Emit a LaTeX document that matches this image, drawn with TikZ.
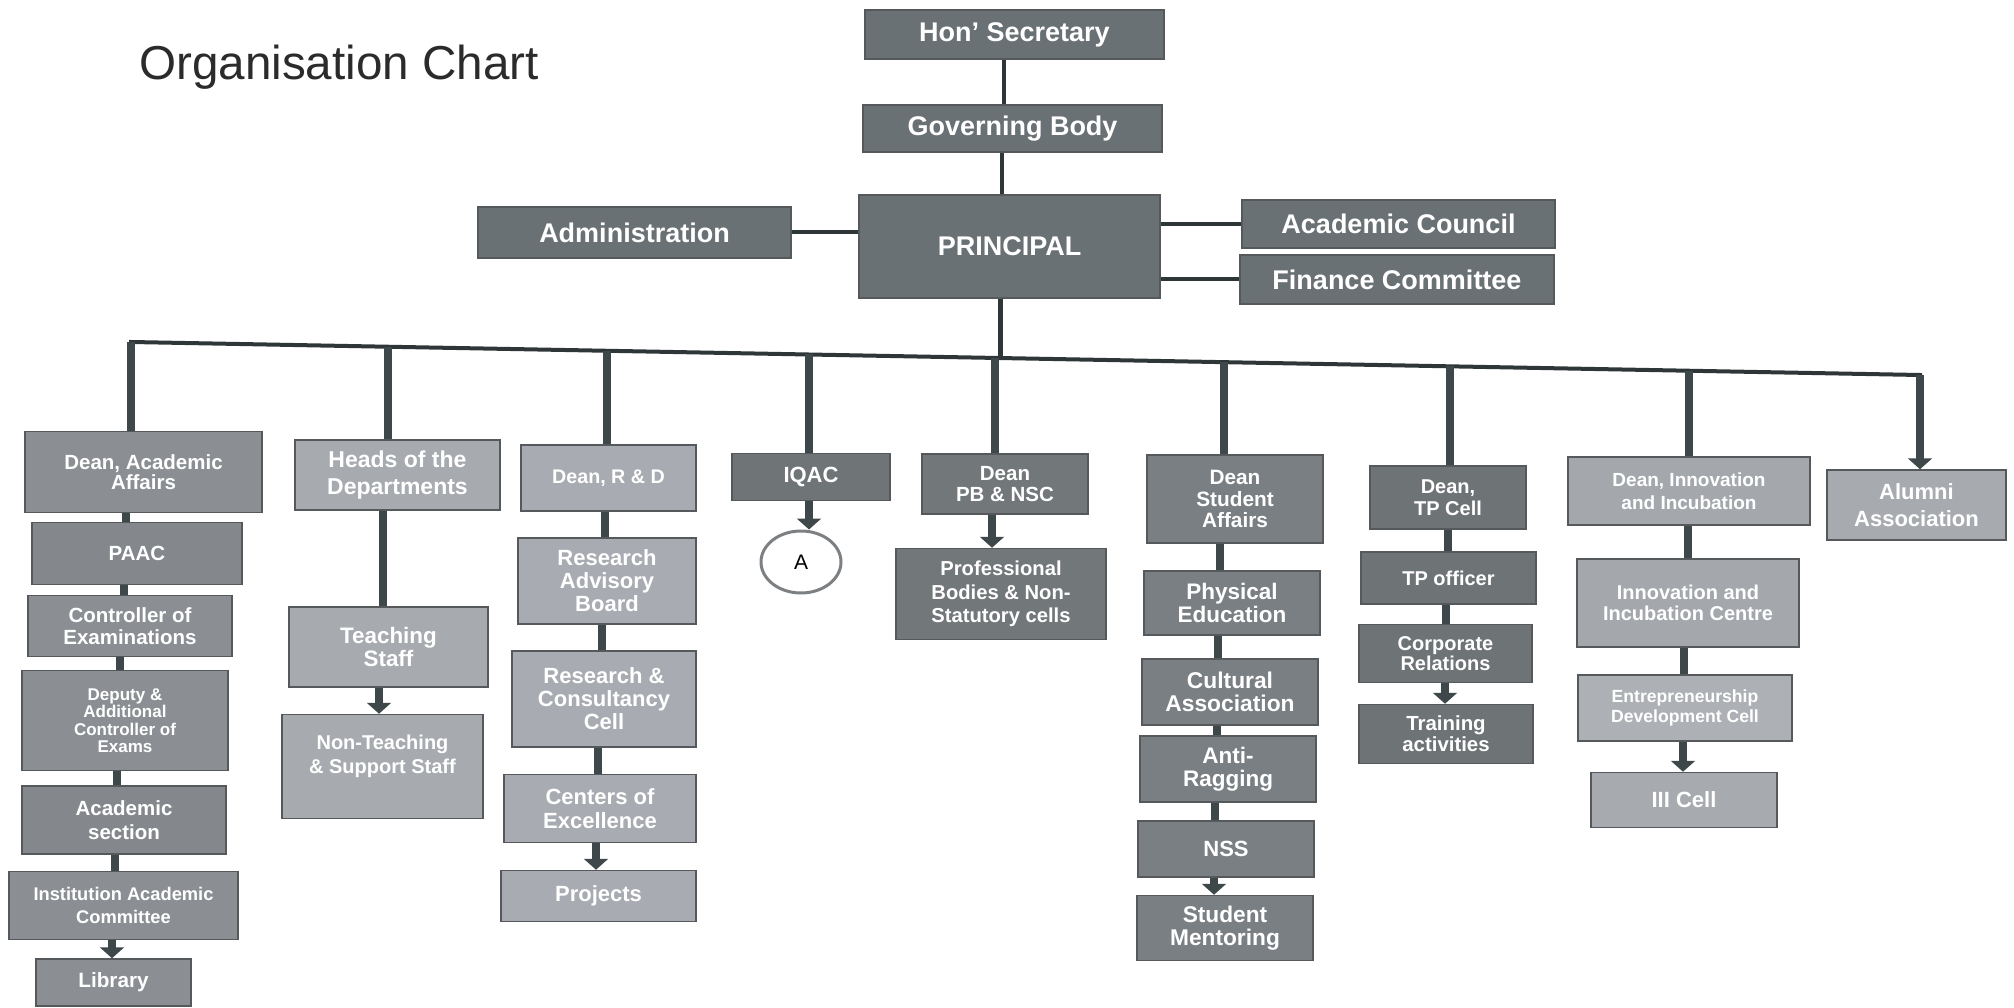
\documentclass[tikz,border=0pt]{standalone}
\usepackage{fontspec}
\setmainfont{Liberation Sans}
\usetikzlibrary{arrows.meta,shapes.geometric}
\definecolor{topc}{HTML}{6A7174}
\definecolor{cone}{HTML}{8B8F94}
\definecolor{coned}{HTML}{84888D}
\definecolor{ctwo}{HTML}{A7AAAF}
\definecolor{cthree}{HTML}{A8ABB1}
\definecolor{cdark}{HTML}{6F7477}
\definecolor{cfive}{HTML}{72777A}
\definecolor{csix}{HTML}{7A7F83}
\definecolor{cseven}{HTML}{6E7376}
\definecolor{ceight}{HTML}{A4A8AD}
\definecolor{ceightl}{HTML}{ADB0B5}
\definecolor{boxline}{HTML}{55595C}
\definecolor{linec}{HTML}{2F3638}
\definecolor{barc}{HTML}{3E474A}
\definecolor{circc}{HTML}{7D8083}
\definecolor{titlec}{HTML}{2B2B2B}
\begin{document}
\begin{tikzpicture}[x=1pt,y=-1pt,
  box/.style={fill=#1, draw=boxline, line width=1.5pt, text=white, align=center, inner sep=0pt},
  wh/.style 2 args={minimum width=#1pt, minimum height=#2pt},
  sz/.style 2 args={font=\bfseries\fontsize{#1}{#2}\selectfont},
  thinl/.style={draw=linec, line width=4pt},
  busl/.style={draw=linec, line width=4pt, line cap=rect},
  bar/.style={draw=barc, line width=8pt},
  arr/.style={draw=barc, fill=barc, line width=8pt, -{Triangle[width=24pt,length=11pt]}},
]
\useasboundingbox (0,0) rectangle (2014,1008);
\fill[white] (0,0) rectangle (2014,1008);

\node[anchor=base west, inner sep=0pt, text=titlec, font=\fontsize{47.6}{50}\selectfont] (title) at (139,80) {Organisation Chart};

% top level
\node[box=topc, wh={299}{49}, sz={27}{28}] (hon) at (1014.5,34.5) {Hon’ Secretary};
\node[box=topc, wh={299}{47}, sz={27}{28}] (gb) at (1012.5,128.5) {Governing Body};
\node[box=topc, wh={301}{103}, sz={27}{28}] (prin) at (1009.5,246.5) {PRINCIPAL};
\node[box=topc, wh={313}{51}, sz={27}{28}] (admin) at (634.5,232.5) {Administration};
\node[box=topc, wh={313}{48}, sz={27}{28}] (ac) at (1398.5,224) {Academic Council};
\node[box=topc, wh={314}{49}, sz={27}{28}] (fc) at (1397,279.5) {Finance Committee};

\draw[thinl] ([xshift=-10.5pt]hon.south) -- ([xshift=-10.5pt]hon.south |- gb.north);
\draw[thinl] ([xshift=-10.5pt]gb.south) -- ([xshift=-10.5pt]gb.south |- prin.north);
\draw[thinl] (admin.east) -- (admin.east -| prin.west);
\draw[thinl] (ac.west -| prin.east) -- (ac.west);
\draw[thinl] (fc.west -| prin.east) -- (fc.west);

% bus junctions
\coordinate (j1) at (131,342);
\coordinate (j2) at (388,346.7);
\coordinate (j3) at (607,350.8);
\coordinate (j4) at (809,354.5);
\coordinate (j5) at (995,357.9);
\coordinate (jp) at (1000,358);
\coordinate (j6) at (1224,362.1);
\coordinate (j7) at (1450,366.3);
\coordinate (j8) at (1689,370.7);
\coordinate (j9) at (1920,375);

\draw[draw=linec, line width=5pt] ([xshift=-9.5pt]prin.south) -- (jp);
\draw[busl] (j1) -- (j9);

% column 1
\node[box=cone, wh={237}{81}, sz={20.5}{20}] (daa) at (143.5,472) {Dean, Academic\\Affairs};
\node[box=coned, wh={210}{62}, sz={20.5}{21}] (paac) at (137,553.5) {PAAC};
\node[box=cone, wh={204}{61}, sz={20.5}{22}] (ctrl) at (130,626) {Controller of\\Examinations};
\node[box=cone, wh={206}{100}, sz={17}{17.5}] (dep) at (125,720.5) {Deputy \&\\Additional\\Controller of\\Exams};
\node[box=coned, wh={204}{68}, sz={20.5}{24}] (acs) at (124,820) {Academic\\section};
\node[box=cone, wh={229}{68}, sz={18.3}{22.5}] (iac) at (123.5,905.5) {Institution Academic\\Committee};
\node[box=cone, wh={155}{47}, sz={20.7}{21}] (lib) at (113.5,982.5) {Library};

% column 2
\node[box=ctwo, wh={205}{70}, sz={23}{27}] (hod) at (397.5,475) {Heads of the\\Departments};
\node[box=ctwo, wh={199}{80}, sz={22.4}{23.6}] (ts) at (388.5,647) {Teaching\\Staff};
\node[box=ctwo, wh={201}{104}, sz={20}{24.5}] (nts) at (382.5,766.5) {Non-Teaching\\\& Support Staff\\\mbox{}};

% column 3
\node[box=cthree, wh={175}{66}, sz={19.7}{21}] (drd) at (608.5,478) {Dean, R \& D};
\node[box=cthree, wh={178}{86}, sz={22}{23}] (rab) at (607,581) {Research\\Advisory\\Board};
\node[box=cthree, wh={184}{96}, sz={22}{23}] (rcc) at (604,699) {Research \&\\Consultancy\\Cell};
\node[box=cthree, wh={192}{68}, sz={22}{24}] (cex) at (600,808.5) {Centers of\\Excellence};
\node[box=cthree, wh={195}{51}, sz={22}{23}] (proj) at (598.5,896) {Projects};

% column 4
\node[box=cdark, wh={158}{47}, sz={22}{23}] (iqac) at (811,477) {IQAC};
\node[ellipse, draw=circc, line width=3pt, fill=white, minimum width=80pt, minimum height=62pt, inner sep=0pt, font=\fontsize{21}{22}\selectfont] (cA) at (801,562) {A};

% column 5
\node[box=cfive, wh={166}{60}, sz={20.5}{20.6}] (dpb) at (1005,484) {Dean\\PB \& NSC};
\node[box=cfive, wh={210}{91}, sz={20.2}{23.7}] (pbn) at (1001,594) {Professional\\Bodies \& Non-\\Statutory cells};

% column 6
\node[box=csix, wh={176}{88}, sz={20.8}{21.5}] (dsa) at (1235,499) {Dean\\Student\\Affairs};
\node[box=csix, wh={176}{64}, sz={22.5}{22.5}] (pe) at (1232,603) {Physical\\Education};
\node[box=csix, wh={176}{66}, sz={22.8}{23}] (ca) at (1230,692) {Cultural\\Association};
\node[box=csix, wh={176}{66}, sz={22.5}{22.5}] (ar) at (1228,769) {Anti-\\Ragging};
\node[box=csix, wh={176}{56}, sz={22}{23}] (nss) at (1226,849) {NSS};
\node[box=csix, wh={176}{65}, sz={22.7}{23}] (sm) at (1225,928) {Student\\Mentoring};

% column 7
\node[box=cseven, wh={156}{63}, sz={20}{22}] (dtp) at (1448,497.5) {Dean,\\TP Cell};
\node[box=cseven, wh={175}{52}, sz={20}{21}] (tpo) at (1448.5,578) {TP officer};
\node[box=cseven, wh={173}{58}, sz={20}{20.6}] (cr) at (1445.5,653.5) {Corporate\\Relations};
\node[box=cseven, wh={174}{59}, sz={20.4}{21.3}] (tra) at (1446,734) {Training\\activities};

% column 8
\node[box=ceight, wh={242}{68}, sz={19}{23}] (din) at (1689,491) {Dean, Innovation\\and Incubation};
\node[box=ceight, wh={222}{88}, sz={20}{21}] (iic) at (1688,603) {Innovation and\\Incubation Centre};
\node[box=ceightl, wh={214}{66}, sz={17.6}{19.5}] (edc) at (1685,708) {Entrepreneurship\\Development Cell};
\node[box=ctwo, wh={186}{55}, sz={22}{23}] (iii) at (1684,800) {III Cell};

% column 9
\node[box=ctwo, wh={179}{70}, sz={22}{26.5}] (alu) at (1916.5,505) {Alumni\\Association};

% drops from bus
\draw[bar] (j1) -- (j1 |- daa.north);
\draw[bar] (j2) -- (j2 |- hod.north);
\draw[bar] (j3) -- (j3 |- drd.north);
\draw[bar] (j4) -- (j4 |- iqac.north);
\draw[bar] (j5) -- (j5 |- dpb.north);
\draw[bar] (j6) -- (j6 |- dsa.north);
\draw[bar] (j7) -- (j7 |- dtp.north);
\draw[bar] (j8) -- (j8 |- din.north);
\draw[arr] (j9) -- (j9 |- alu.north);

% column 1 links
\draw[bar] ([xshift=-17.5pt]daa.south) -- ([xshift=-17.5pt]daa.south |- paac.north);
\draw[bar] ([xshift=-13pt]paac.south) -- ([xshift=-13pt]paac.south |- ctrl.north);
\draw[bar] ([xshift=-10pt]ctrl.south) -- ([xshift=-10pt]ctrl.south |- dep.north);
\draw[bar] ([xshift=-8pt]dep.south) -- ([xshift=-8pt]dep.south |- acs.north);
\draw[bar] ([xshift=-9pt]acs.south) -- ([xshift=-9pt]acs.south |- iac.north);
\draw[arr] ([xshift=-11.5pt]iac.south) -- ([xshift=-11.5pt]iac.south |- lib.north);

% column 2 links
\draw[bar] ([xshift=-14.5pt]hod.south) -- ([xshift=-14.5pt]hod.south |- ts.north);
\draw[arr] ([xshift=-9.5pt]ts.south) -- ([xshift=-9.5pt]ts.south |- nts.north);

% column 3 links
\draw[bar] ([xshift=-3.5pt]drd.south) -- ([xshift=-3.5pt]drd.south |- rab.north);
\draw[bar] ([xshift=-5pt]rab.south) -- ([xshift=-5pt]rab.south |- rcc.north);
\draw[bar] ([xshift=-6pt]rcc.south) -- ([xshift=-6pt]rcc.south |- cex.north);
\draw[arr] ([xshift=-4pt]cex.south) -- ([xshift=-4pt]cex.south |- proj.north);

% column 4, 5 links
\draw[arr] ([xshift=-2pt]iqac.south) -- ([xshift=-2pt]iqac.south |- cA.north);
\draw[arr] ([xshift=-13pt]dpb.south) -- ([xshift=-13pt]dpb.south |- pbn.north);

% column 6 links
\draw[bar] ([xshift=-15pt]dsa.south) -- ([xshift=-15pt]dsa.south |- pe.north);
\draw[bar] ([xshift=-14pt]pe.south) -- ([xshift=-14pt]pe.south |- ca.north);
\draw[bar] ([xshift=-13pt]ca.south) -- ([xshift=-13pt]ca.south |- ar.north);
\draw[bar] ([xshift=-13pt]ar.south) -- ([xshift=-13pt]ar.south |- nss.north);
\draw[arr] ([xshift=-12pt]nss.south) -- ([xshift=-12pt]nss.south |- sm.north);

% column 7 links
\draw[bar] (dtp.south) -- (dtp.south |- tpo.north);
\draw[bar] ([xshift=-2.5pt]tpo.south) -- ([xshift=-2.5pt]tpo.south |- cr.north);
\draw[arr] ([xshift=-0.5pt]cr.south) -- ([xshift=-0.5pt]cr.south |- tra.north);

% column 8 links
\draw[bar] ([xshift=-1pt]din.south) -- ([xshift=-1pt]din.south |- iic.north);
\draw[bar] ([xshift=-4pt]iic.south) -- ([xshift=-4pt]iic.south |- edc.north);
\draw[arr] ([xshift=-2pt]edc.south) -- ([xshift=-2pt]edc.south |- iii.north);
\end{tikzpicture}
\end{document}
